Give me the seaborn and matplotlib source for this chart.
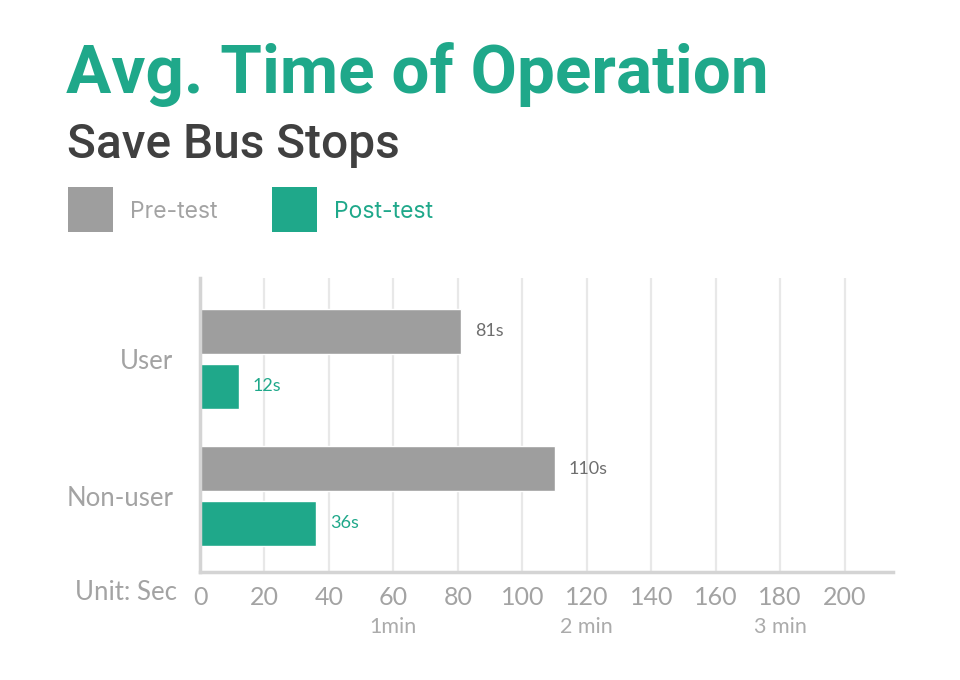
import pandas as pd
import matplotlib.pyplot as plt
import matplotlib.transforms as mtransforms
from matplotlib.patches import Rectangle
import seaborn as sns

# data
groups = ["User", "Non-user"]
pre_test = [81, 110]
post_test = [12, 36]
series_names = ["Pre-test", "Post-test"]
x_ticks = [0, 20, 40, 60, 80, 100, 120, 140, 160, 180, 200]
minute_ticks = [60, 120, 180]
minute_labels = ["1min", "2 min", "3 min"]

TEAL = "#1fa88a"
GRAY = "#9e9e9e"
TXT = "#a3a3a3"


def main():
    sns.set_style("white")
    plt.rcParams['font.family'] = ['Lato', 'DejaVu Sans']

    df = pd.DataFrame({
        "group": groups * 2,
        "series": [series_names[0]] * 2 + [series_names[1]] * 2,
        "value": pre_test + post_test,
    })

    fig = plt.figure(figsize=(9.6, 6.8), dpi=100)
    ax = fig.add_axes([200 / 960, 1 - 572 / 680, 693 / 960, 294 / 680])

    sns.barplot(data=df, y="group", x="value", hue="series", orient="h",
                palette=[GRAY, TEAL], width=0.8, gap=0.18, legend=False,
                saturation=1, ax=ax)

    ax.set_xlim(0, 215)
    ax.set_ylim(1.555, -0.59)
    ax.set_xticks(x_ticks)
    ax.set_xlabel("")
    ax.set_ylabel("")

    # grid + spines
    ax.grid(axis="x", color="#e8e8e8", linewidth=1.6)
    ax.set_axisbelow(True)
    for s in ["top", "right"]:
        ax.spines[s].set_visible(False)
    ax.spines["left"].set_color("#d4d4d4")
    ax.spines["left"].set_linewidth(2.5)
    ax.spines["bottom"].set_color("#d4d4d4")
    ax.spines["bottom"].set_linewidth(2.5)

    ax.tick_params(axis="x", length=0, pad=10, labelsize=18, labelcolor=TXT)
    ax.tick_params(axis="y", length=0, pad=19, labelsize=18.5, labelcolor=TXT)

    # value labels
    label_colors = ["#6e6e6e", TEAL]
    for cont, col in zip(ax.containers, label_colors):
        ax.bar_label(cont, labels=[f"{v:g}s" for v in cont.datavalues],
                     padding=10, fontsize=13, color=col)

    # minute markers under the ticks
    trans = mtransforms.blended_transform_factory(ax.transData, fig.transFigure)
    for xv, lab in zip(minute_ticks, minute_labels):
        ax.text(xv, 1 - 633 / 680, lab, transform=trans, ha="center",
                va="baseline", fontsize=15.5, color="#ababab")

    fig.text(177 / 960, 1 - 600 / 680, "Unit: Sec", ha="right", va="baseline",
             fontsize=18.5, color=TXT)

    # titles
    fig.text(66 / 960, 1 - 93 / 680, "Avg. Time of Operation", ha="left",
             va="baseline", fontsize=48.5, fontweight="bold", color=TEAL,
             family=["Roboto", "DejaVu Sans"])
    fig.text(67 / 960, 1 - 158 / 680, "Save Bus Stops", ha="left",
             va="baseline", fontsize=34.5, fontweight="medium", color="#404040",
             family=["Roboto", "DejaVu Sans"])

    # legend: squares + labels
    sq = 45 / 960
    lx = [68 / 960, 272 / 960]
    lcol = [TXT, TEAL]
    for x0, name, fc, tc in zip(lx, series_names, [GRAY, TEAL], lcol):
        fig.patches.append(Rectangle((x0, 1 - 232 / 680), sq, 45 / 680,
                                     transform=fig.transFigure, facecolor=fc,
                                     edgecolor="none"))
        fig.text(x0 + 62 / 960, 1 - 218 / 680, name, ha="left", va="baseline",
                 fontsize=16.5, color=tc, family=["Inter", "DejaVu Sans"])

    fig.savefig("out.png", dpi=100)


if __name__ == '__main__':
    main()
